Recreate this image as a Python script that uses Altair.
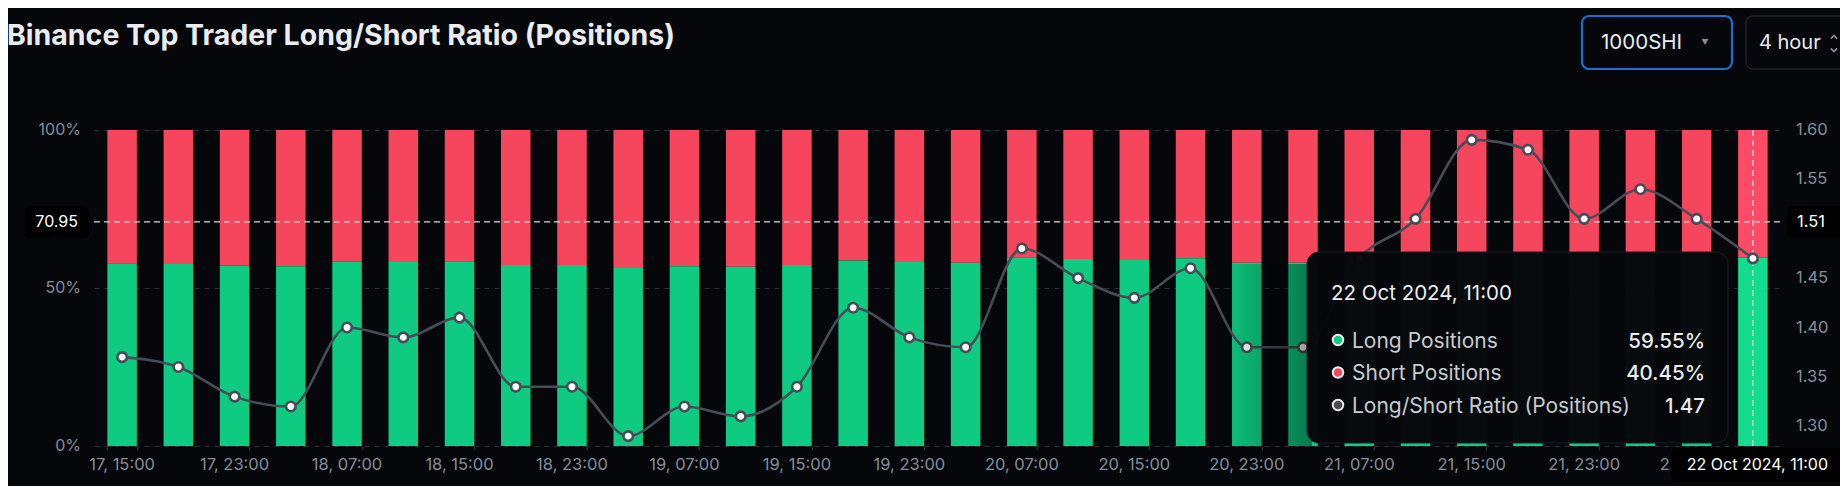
import altair as alt
import pandas as pd

# ---------------- data ----------------
times = ["17, 15:00", "17, 19:00", "17, 23:00", "18, 03:00", "18, 07:00", "18, 11:00",
         "18, 15:00", "18, 19:00", "18, 23:00", "19, 03:00", "19, 07:00", "19, 11:00",
         "19, 15:00", "19, 19:00", "19, 23:00", "20, 03:00", "20, 07:00", "20, 11:00",
         "20, 15:00", "20, 19:00", "20, 23:00", "21, 03:00", "21, 07:00", "21, 11:00",
         "21, 15:00", "21, 19:00", "21, 23:00", "22, 03:00", "22, 07:00", "22, 11:00"]
long_pct = [57.8, 57.6, 57.1, 56.9, 58.3, 58.2, 58.5, 57.3, 57.3, 56.3,
            56.9, 56.7, 57.3, 58.7, 58.2, 58.0, 59.7, 59.2, 58.9, 59.4,
            58.0, 58.0, 59.5, 60.2, 61.4, 61.2, 60.2, 60.6, 60.2, 59.55]
ratio = [1.37, 1.36, 1.33, 1.32, 1.40, 1.39, 1.41, 1.34, 1.34, 1.29,
         1.32, 1.31, 1.34, 1.42, 1.39, 1.38, 1.48, 1.45, 1.43, 1.46,
         1.38, 1.38, 1.47, 1.51, 1.59, 1.58, 1.51, 1.54, 1.51, 1.47]
pct_ticks = [0, 50, 100]
pct_labels = ["0%", "50%", "100%"]
ratio_ticks = [1.30, 1.35, 1.40, 1.45, 1.55, 1.60]
ratio_domain = [1.28, 1.60]
hover_time = "22, 11:00"
hover_label = "22 Oct 2024, 11:00"
cross_pct = 70.95
cross_ratio = "1.51"
title_text = "Binance Top Trader Long/Short Ratio (Positions)"
symbol_text = "1000SHI"
interval_text = "4 hour"
tt_rows = ["Long Positions", "Short Positions", "Long/Short Ratio (Positions)"]

df = pd.DataFrame({"t": times, "long": long_pct, "ratio": ratio})
df["is_hover"] = df["t"] == hover_time
xlab_df = df.iloc[::2][["t"]].copy()
pct_df = pd.DataFrame({"long": pct_ticks, "lbl": pct_labels})
rat_df = pd.DataFrame({"ratio": ratio_ticks, "lbl": [f"{v:.2f}" for v in ratio_ticks]})

# ---------------- layout / style ----------------
W, H = 1687, 316
X0, Y0 = 94, 130  # page position of the plot origin


def px(x):
    return x - X0


def py(y):
    return y - Y0


FONT = "Inter"
BG = "#05070b"
GREEN, GREEN_H = "#0ecb81", "#14dc8e"
RED, RED_H = "#f6465d", "#ff4b65"
GRAY = "#848e9c"
LINEC = "#474d57"
GRID = "#2b3139"
WHITE = "#eaecef"

xaxis = alt.Axis(values=times[::2], labels=False, title=None, domain=False, grid=False,
                 tickBand="extent", tickSize=4, tickColor=GRID)
xenc = alt.X("t:N", sort=times, scale=alt.Scale(paddingInner=0.475, paddingOuter=0.2375),
             axis=xaxis)
left_axis = alt.Axis(values=pct_ticks, labels=False, title=None, orient="left", grid=True,
                     gridDash=[5, 5], gridColor=GRID, domain=False, ticks=False)
left_scale = alt.Scale(domain=[0, 100], nice=False)
y_left = alt.Y("long:Q", scale=left_scale, axis=left_axis)
right_scale = alt.Scale(domain=ratio_domain, nice=False, zero=False)
y_right = alt.Y("ratio:Q", scale=right_scale, axis=None)

base = alt.Chart(df)

red = base.mark_bar().encode(
    x=xenc, y=y_left, y2=alt.datum(100),
    color=alt.condition("datum.is_hover", alt.value(RED_H), alt.value(RED)),
)
green = base.mark_bar().encode(
    x=xenc, y=y_left, y2=alt.datum(0),
    color=alt.condition("datum.is_hover", alt.value(GREEN_H), alt.value(GREEN)),
)
left_labels = alt.Chart(pct_df).mark_text(
    align="right", baseline="middle", font=FONT, fontSize=16, color=GRAY).encode(
    y=y_left, x=alt.value(-13), text="lbl:N")
x_labels = alt.Chart(xlab_df).mark_text(
    align="center", baseline="middle", font=FONT, fontSize=16.5, color=GRAY).encode(
    x=xenc, y=alt.value(H + 19), text="t:N")

one = pd.DataFrame({"k": [0]})
cross_y = H * (1 - cross_pct / 100)
hrule = alt.Chart(one).mark_rule(color="#d5d8dc", strokeDash=[6, 4], strokeWidth=1.2).encode(
    x=alt.value(0), x2=alt.value(W), y=alt.value(cross_y))
vrule = base.transform_filter("datum.is_hover").mark_rule(
    color="#d5d8dc", strokeDash=[6, 4], strokeWidth=1.2).encode(
    x=xenc, y=alt.value(0), y2=alt.value(H))

bars_group = alt.layer(red, green, left_labels, x_labels, hrule, vrule)

line = base.mark_line(color=LINEC, strokeWidth=2.6, interpolate="monotone").encode(x=xenc, y=y_right)
pts = base.mark_circle(color="white", stroke=LINEC, strokeWidth=2.6, size=90, opacity=1).encode(
    x=xenc, y=y_right)
right_labels = alt.Chart(rat_df).mark_text(
    align="left", baseline="middle", font=FONT, fontSize=16.5, color=GRAY).encode(
    y=y_right, x=alt.value(W + 15), text="lbl:N")
line_group = alt.layer(right_labels, line, pts)

main = alt.layer(bars_group, line_group).resolve_scale(y="independent")


# ---------------- UI annotations ----------------
def rect(x1, x2, y1, y2, **kw):
    return alt.Chart(one).mark_rect(**kw).encode(
        x=alt.value(px(x1)), x2=alt.value(px(x2)), y=alt.value(py(y1)), y2=alt.value(py(y2)))


def text(s, x, y, **kw):
    kw.setdefault("font", FONT)
    return alt.Chart(one).mark_text(text=s, **kw).encode(x=alt.value(px(x)), y=alt.value(py(y)))


def dot(x, y, fill, **kw):
    return alt.Chart(one).mark_point(filled=True, fill=fill, **kw).encode(
        x=alt.value(px(x)), y=alt.value(py(y)))


shadow = rect(1215, 1312, 264, 446, color=alt.Gradient(
    gradient="linear", x1=0, x2=1, y1=0, y2=0,
    stops=[alt.GradientStop(color="rgba(0,0,0,0)", offset=0),
           alt.GradientStop(color="rgba(0,0,0,0.4)", offset=1)]))
tip_box = rect(1307, 1728, 252, 443, fill="#07080b", stroke="#1b1f25", strokeWidth=1,
               cornerRadius=12, opacity=0.98)
tip_head = text(hover_label, 1331, 300, fontSize=20.5, color=WHITE, align="left", baseline="alphabetic")
row_y = [347.5, 380, 412.5]
vals = [f"{long_pct[-1]:.2f}%", f"{100 - long_pct[-1]:.2f}%", f"{ratio[-1]:.2f}"]
dot_cols = [GREEN, RED, LINEC]
tip_layers = [shadow, tip_box, tip_head]
for lab, yy, v, c in zip(tt_rows, row_y, vals, dot_cols):
    tip_layers.append(dot(1338, yy - 7.5, c, stroke=WHITE, strokeWidth=2, size=110, opacity=1))
    tip_layers.append(text(lab, 1352, yy, fontSize=21, color="#c7cbd1", align="left", baseline="alphabetic"))
    tip_layers.append(text(v, 1705, yy, fontSize=20.5, color=WHITE, fontWeight=500,
                           align="right", baseline="alphabetic"))

cross_labels = [
    rect(25, 89, 206, 238, fill="#000000", cornerRadius=6),
    text(f"{cross_pct:.2f}", 78, 222, fontSize=16, color="#ffffff", align="right", baseline="middle"),
    rect(1787, 1845, 206, 238, fill="#000000", cornerRadius=6),
    text(cross_ratio, 1797, 222, fontSize=16.5, color="#ffffff", align="left", baseline="middle"),
    rect(1671, 1845, 448, 482, fill="#000000", cornerRadius=6),
    text(hover_label, 1828, 465, fontSize=16, color="#ffffff", align="right", baseline="middle"),
]

header = [
    text(title_text, 7, 45, fontSize=28.5, fontWeight="bold", color=WHITE, align="left",
         baseline="alphabetic"),
    rect(1582, 1732, 16, 69, fill=BG, stroke="#1a6fd3", strokeWidth=2.2, cornerRadius=7),
    text(symbol_text, 1601, 43, fontSize=20.5, color=WHITE, align="left", baseline="middle"),
    dot(1705, 42, GRAY, shape="triangle-down", size=45, opacity=1),
    rect(1746, 1880, 16, 69, fill=BG, stroke=GRID, strokeWidth=1, cornerRadius=7),
    text(interval_text, 1759, 43, fontSize=20, color=WHITE, align="left", baseline="middle"),
    alt.Chart(one).mark_point(shape="M -1 0.5 L 0 -0.5 L 1 0.5", filled=False, stroke=GRAY,
                              strokeWidth=1.6, size=40, opacity=1).encode(
        x=alt.value(px(1834)), y=alt.value(py(37))),
    alt.Chart(one).mark_point(shape="M -1 -0.5 L 0 0.5 L 1 -0.5", filled=False, stroke=GRAY,
                              strokeWidth=1.6, size=40, opacity=1).encode(
        x=alt.value(px(1834)), y=alt.value(py(50))),
]

chart = (
    alt.layer(main, *tip_layers, *cross_labels, *header)
    .properties(
        width=W, height=H,
        autosize=alt.AutoSizeParams(type="none"),
        padding={"left": 86, "top": 122, "right": 59, "bottom": 40},
        background=BG,
    )
    .configure_view(stroke=None)
)

chart.save("out.html", embed_options={"renderer": "svg", "actions": False})
